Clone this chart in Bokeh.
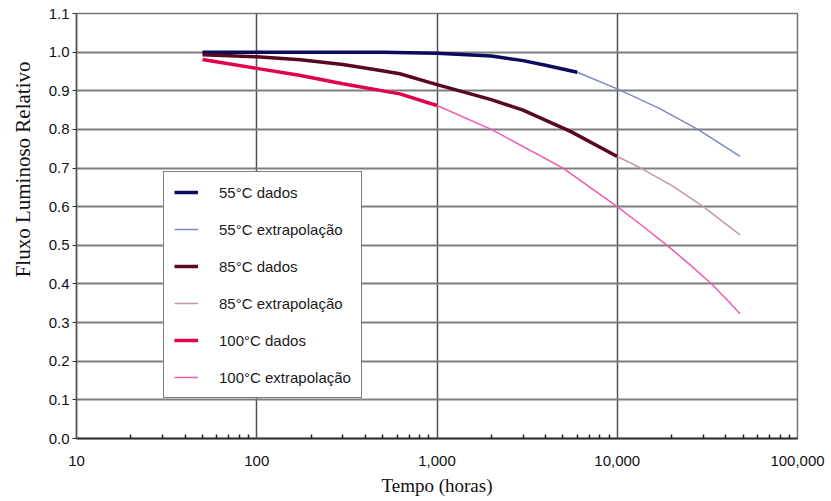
from bokeh.plotting import figure
from bokeh.models import (Range1d, FixedTicker, NumeralTickFormatter, Legend,
                          LegendItem, Title)
from bokeh.embed import file_html
from bokeh.resources import INLINE

# Relative luminous flux vs. time (hours), measured and extrapolated
t55_dados = [50, 100, 200, 500, 1000, 2000, 3000, 4000, 6000]
f55_dados = [1.0, 1.0, 1.0, 1.0, 0.997, 0.99, 0.978, 0.966, 0.948]
t55_extrap = [6000, 10000, 17000, 28000, 48000]
f55_extrap = [0.948, 0.905, 0.855, 0.80, 0.73]

t85_dados = [50, 100, 175, 300, 450, 622, 1000, 2000, 3000, 5500, 10000]
f85_dados = [0.993, 0.988, 0.98, 0.968, 0.955, 0.944, 0.916, 0.877, 0.85, 0.795, 0.73]
t85_extrap = [10000, 13500, 20000, 30000, 48000]
f85_extrap = [0.73, 0.70, 0.655, 0.60, 0.527]

t100_dados = [50, 100, 172, 300, 622, 1000]
f100_dados = [0.981, 0.958, 0.94, 0.918, 0.892, 0.862]
t100_extrap = [1000, 2000, 5000, 10000, 14000, 18900, 25000, 33400, 41000, 48000]
f100_extrap = [0.862, 0.80, 0.70, 0.60, 0.548, 0.50, 0.452, 0.40, 0.357, 0.323]

y_ticks = [0.0, 0.1, 0.2, 0.3, 0.4, 0.5, 0.6, 0.7, 0.8, 0.9, 1.0, 1.1]
x_ticks = [10, 100, 1000, 10000, 100000]
x_minor_ticks = [m * d for d in (10, 100, 1000, 10000) for m in range(2, 10)]

series = [
    ("55°C dados", t55_dados, f55_dados, "#0b0b5e", 3.5),
    ("55°C extrapolação", t55_extrap, f55_extrap, "#7b88c8", 1.5),
    ("85°C dados", t85_dados, f85_dados, "#5a0820", 3.5),
    ("85°C extrapolação", t85_extrap, f85_extrap, "#c09aa8", 1.5),
    ("100°C dados", t100_dados, f100_dados, "#e2004c", 3.5),
    ("100°C extrapolação", t100_extrap, f100_extrap, "#ee5aae", 1.5),
]

p = figure(width=831, height=501, x_axis_type="log",
           x_range=Range1d(10, 100000), y_range=Range1d(0, 1.1),
           output_backend="svg", toolbar_location=None,
           min_border_left=76, min_border_right=34,
           min_border_top=13, min_border_bottom=63)

p.background_fill_color = "white"
p.border_fill_color = "white"
p.outline_line_color = "#777777"
p.outline_line_width = 1.5

# grid
p.ygrid.grid_line_color = "#7e7e7e"
p.ygrid.grid_line_width = 2
p.xgrid.grid_line_color = "#505050"
p.xgrid.grid_line_width = 1.5

# x axis
p.xaxis.ticker = FixedTicker(ticks=x_ticks, minor_ticks=x_minor_ticks)
p.xaxis.formatter = NumeralTickFormatter(format="0,0")
p.xaxis.major_tick_out = 0
p.xaxis.major_tick_in = 0
p.xaxis.minor_tick_in = 4
p.xaxis.minor_tick_out = 0
p.xaxis.minor_tick_line_color = "#222222"
p.xaxis.minor_tick_line_width = 1.5
p.xaxis.axis_line_color = "#333333"
p.xaxis.axis_line_width = 2
p.xaxis.major_label_standoff = 17
p.xaxis.axis_label = "Tempo (horas)"
p.xaxis.axis_label_standoff = 6
p.xaxis.axis_label_text_font = "Liberation Serif"
p.xaxis.axis_label_text_font_style = "normal"
p.xaxis.axis_label_text_font_size = "19px"
p.xaxis.axis_label_text_color = "#111111"

# y axis
p.yaxis.ticker = FixedTicker(ticks=y_ticks)
p.yaxis.formatter = NumeralTickFormatter(format="0.0")
p.yaxis.major_tick_out = 4
p.yaxis.major_tick_in = 0
p.yaxis.minor_tick_out = 0
p.yaxis.axis_line_color = "#555555"
p.yaxis.axis_line_width = 1.5
p.yaxis.major_label_standoff = 3

for ax in (p.xaxis, p.yaxis):
    ax.major_label_text_font = "Liberation Sans"
    ax.major_label_text_font_size = "15px"
    ax.major_label_text_color = "#111111"
    ax.major_tick_line_color = "#333333"

items = []
for name, t, f, color, lw in series:
    r = p.line(t, f, line_color=color, line_width=lw)
    items.append(LegendItem(label=name, renderers=[r]))

legend = Legend(items=items, location=(87, 40))
legend.label_text_font = "Liberation Sans"
legend.label_text_font_size = "15px"
legend.label_text_color = "#1a1a1a"
legend.border_line_color = "black"
legend.border_line_width = 1.5
legend.background_fill_color = "white"
legend.background_fill_alpha = 1.0
legend.padding = 10
legend.spacing = 17
legend.label_height = 20
legend.glyph_height = 20
legend.glyph_width = 24
legend.label_standoff = 21
legend.margin = 0
p.add_layout(legend, "center")

# vertical y-axis title, placed toward the upper part of the axis
ytitle = Title(text="Fluxo Luminoso Relativo", align="right", offset=48,
               vertical_align="top", standoff=18,
               text_font="Liberation Serif", text_font_size="21px",
               text_font_style="normal", text_color="#111111")
p.add_layout(ytitle, "left")

open("out.html", "w").write(file_html(p, INLINE))
